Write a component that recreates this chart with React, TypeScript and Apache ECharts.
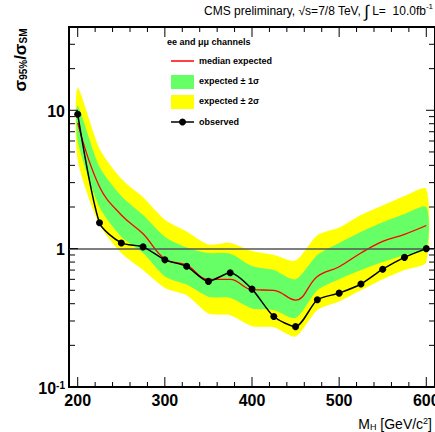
import React, { useEffect, useRef } from "react";
import * as echarts from "echarts";

const masses = [200, 225, 250, 275, 300, 325, 350, 375, 400, 425, 450, 475, 500, 525, 550, 575, 600];
const observed = [9.35, 1.54, 1.1, 1.03, 0.83, 0.745, 0.58, 0.67, 0.51, 0.323, 0.273, 0.427, 0.477, 0.555, 0.71, 0.865, 1.0];
const median = [8.1, 2.8, 1.75, 1.28, 0.84, 0.76, 0.6, 0.6, 0.505, 0.5, 0.425, 0.63, 0.74, 0.93, 1.13, 1.27, 1.47];
const plus2 = [14.5, 5.3, 3.2, 2.35, 1.62, 1.33, 1.07, 1.1, 0.96, 0.9, 0.82, 1.25, 1.42, 1.75, 2.05, 2.4, 2.7];
const plus1 = [10.8, 3.9, 2.4, 1.75, 1.22, 1.02, 0.93, 0.92, 0.75, 0.7, 0.6, 0.9, 1.1, 1.32, 1.55, 1.78, 2.0];
const minus1 = [6.0, 2.0, 1.22, 0.93, 0.63, 0.55, 0.45, 0.44, 0.37, 0.36, 0.315, 0.5, 0.6, 0.7, 0.8, 0.9, 1.0];
const minus2 = [4.4, 1.5, 0.93, 0.7, 0.52, 0.46, 0.34, 0.33, 0.275, 0.27, 0.232, 0.36, 0.415, 0.5, 0.6, 0.7, 0.8];

const xLabels = [200, 300, 400, 500, 600];
const xMinorTicks = [220, 240, 260, 280, 320, 340, 360, 380, 420, 440, 460, 480, 520, 540, 560, 580];
const yLabelValues = [0.1, 1, 10];
const yLabelTexts = ["{b|10}{s|-1}", "{b|1}", "{b|10}"];
const yMajorTicks = [1, 10];
const yMinorTicks = [0.2, 0.3, 0.4, 0.5, 0.6, 0.7, 0.8, 0.9, 2, 3, 4, 5, 6, 7, 8, 9, 20, 30, 40];

const X_MIN = 190;
const X_MAX = 610;
const Y_MIN = 0.1;
const Y_MAX = 40;

const FONT = "Liberation Sans, Arial, Helvetica, sans-serif";
const GREEN = "#66ff66";
const YELLOW = "#ffff00";

function band(upper: number[], lower: number[], color: string, z: number) {
  return {
    type: "custom",
    z,
    silent: true,
    clip: true,
    data: [[masses[0], upper[0]]],
    renderItem: (_params: any, api: any) => {
      const top = masses.map((m, i) => api.coord([m, upper[i]]));
      const bot = masses.map((m, i) => api.coord([m, lower[i]])).reverse();
      return {
        type: "polygon",
        shape: { points: top.concat(bot), smooth: 0.25 },
        style: { fill: color, stroke: null },
      };
    },
  };
}

export default function App() {
  const ref = useRef<HTMLDivElement>(null);
  useEffect(() => {
    if (!ref.current) return;
    const chart = echarts.init(ref.current, undefined, { renderer: "svg" });
    const option: any = {
      animation: false,
      backgroundColor: "#fff",
      grid: {
        left: 69,
        top: 27,
        width: 366,
        height: 360,
        show: true,
        borderColor: "#000",
        borderWidth: 2,
        backgroundColor: "transparent",
        containLabel: false,
        outerBoundsMode: "none",
      },
      xAxis: {
        type: "value",
        min: X_MIN,
        max: X_MAX,
        axisLine: { show: true, lineStyle: { color: "#000", width: 2 } },
        axisTick: { show: false },
        splitLine: { show: false },
        axisLabel: {
          customValues: xLabels,
          fontSize: 16,
          fontWeight: "bold",
          fontFamily: FONT,
          color: "#000",
          margin: 5,
        },
      },
      yAxis: {
        type: "log",
        logBase: 10,
        min: Y_MIN,
        max: Y_MAX,
        axisLine: { show: true, lineStyle: { color: "#000", width: 2 } },
        axisTick: { show: false },
        splitLine: { show: false },
        axisLabel: { show: false },
      },
      series: [
        band(plus2, minus2, YELLOW, 1),
        band(plus1, minus1, GREEN, 2),
        {
          type: "line",
          name: "median expected",
          z: 3,
          data: masses.map((m, i) => [m, median[i]]),
          smooth: 0.4,
          showSymbol: false,
          symbol: "none",
          lineStyle: { color: "#ff0000", width: 1.3 },
          markLine: {
            silent: true,
            symbol: "none",
            label: { show: false },
            lineStyle: { color: "#555", width: 1.6, type: "solid" },
            data: [{ yAxis: 1 }],
          },
        },
        {
          type: "line",
          name: "observed",
          z: 5,
          data: masses.map((m, i) => [m, observed[i]]),
          smooth: 0.25,
          symbol: "circle",
          symbolSize: 7,
          itemStyle: { color: "#000" },
          lineStyle: { color: "#000", width: 1.5 },
        },
        {
          type: "custom",
          z: 6,
          silent: true,
          clip: false,
          data: [[X_MIN, Y_MIN]],
          renderItem: (_params: any, api: any) => {
            const children: any[] = [];
            const ln = (a: number[], b: number[]) =>
              children.push({ type: "line", shape: { x1: a[0], y1: a[1], x2: b[0], y2: b[1] }, style: { stroke: "#000", lineWidth: 1 } });
            xLabels.forEach((m) => {
              const b = api.coord([m, Y_MIN]);
              const t = api.coord([m, Y_MAX]);
              ln(b, [b[0], b[1] - 10]);
              ln(t, [t[0], t[1] + 10]);
            });
            xMinorTicks.forEach((m) => {
              const b = api.coord([m, Y_MIN]);
              const t = api.coord([m, Y_MAX]);
              ln(b, [b[0], b[1] - 5]);
              ln(t, [t[0], t[1] + 5]);
            });
            yMajorTicks.forEach((v) => {
              const l = api.coord([X_MIN, v]);
              const r = api.coord([X_MAX, v]);
              ln(l, [l[0] + 9, l[1]]);
              ln(r, [r[0] - 9, r[1]]);
            });
            yMinorTicks.forEach((v) => {
              const l = api.coord([X_MIN, v]);
              const r = api.coord([X_MAX, v]);
              ln(l, [l[0] + 6, l[1]]);
              ln(r, [r[0] - 6, r[1]]);
            });
            yLabelValues.forEach((v, i) => {
              const l = api.coord([X_MIN, v]);
              children.push({
                type: "text",
                x: l[0] - 4,
                y: l[1] + 1,
                style: {
                  text: yLabelTexts[i],
                  align: "right",
                  verticalAlign: "middle",
                  rich: {
                    b: { fontSize: 16, fontWeight: "bold", fontFamily: FONT, fill: "#000" },
                    s: { fontSize: 10, fontWeight: "bold", fontFamily: FONT, fill: "#000", verticalAlign: "top", padding: [0, 0, 6, 0] },
                  },
                },
              });
            });
            return { type: "group", children };
          },
        },
      ],
      graphic: [
        {
          type: "text",
          x: 433,
          y: 11,
          style: {
            text: "{t|CMS preliminary, √s=7/8 TeV, }{i|∫}{t| L=  10.0fb}{p|-1}",
            align: "right",
            verticalAlign: "middle",
            rich: {
              t: { fontSize: 12, fontFamily: FONT, fill: "#000" },
              i: { fontSize: 17, fontFamily: FONT, fill: "#000" },
              p: { fontSize: 8, fontFamily: FONT, fill: "#000", verticalAlign: "top", padding: [0, 0, 5, 0] },
            },
          },
        },
        {
          type: "text",
          x: 432,
          y: 424,
          style: {
            text: "{n|M}{b|H}{n| [GeV/c}{p|2}{n|]}",
            align: "right",
            verticalAlign: "middle",
            rich: {
              n: { fontSize: 14, fontFamily: FONT, fill: "#000" },
              b: { fontSize: 9, fontFamily: FONT, fill: "#000", verticalAlign: "bottom", padding: [6, 0, 0, 0] },
              p: { fontSize: 9, fontFamily: FONT, fill: "#000", verticalAlign: "top", padding: [0, 0, 6, 0] },
            },
          },
        },
        {
          type: "text",
          x: 20,
          y: 60,
          rotation: Math.PI / 2,
          style: {
            text: "{s|σ}{b|95%}{s|/σ}{b|SM}",
            align: "center",
            verticalAlign: "middle",
            rich: {
              s: { fontSize: 17, fontWeight: "bold", fontFamily: FONT, fill: "#000" },
              b: { fontSize: 10, fontWeight: "bold", fontFamily: FONT, fill: "#000", verticalAlign: "bottom", padding: [7, 0, 0, 0] },
            },
          },
        },
        {
          type: "text",
          x: 167,
          y: 42,
          style: { text: "ee and μμ channels", fontSize: 9, fontWeight: "bold", fontFamily: FONT, fill: "#000", verticalAlign: "middle" },
        },
        { type: "line", shape: { x1: 171, y1: 61, x2: 194, y2: 61 }, style: { stroke: "#ff0000", lineWidth: 1.5 } },
        {
          type: "text",
          x: 199,
          y: 61,
          style: { text: "median expected", fontSize: 9, fontWeight: "bold", fontFamily: FONT, fill: "#000", verticalAlign: "middle" },
        },
        { type: "rect", shape: { x: 171, y: 75, width: 23, height: 14 }, style: { fill: GREEN } },
        {
          type: "text",
          x: 199,
          y: 81,
          style: { text: "expected ± 1σ", fontSize: 9, fontWeight: "bold", fontFamily: FONT, fill: "#000", verticalAlign: "middle" },
        },
        { type: "rect", shape: { x: 171, y: 95, width: 23, height: 14 }, style: { fill: YELLOW } },
        {
          type: "text",
          x: 199,
          y: 101,
          style: { text: "expected ± 2σ", fontSize: 9, fontWeight: "bold", fontFamily: FONT, fill: "#000", verticalAlign: "middle" },
        },
        { type: "line", shape: { x1: 171, y1: 122, x2: 194, y2: 122 }, style: { stroke: "#000", lineWidth: 1.5 } },
        { type: "circle", shape: { cx: 182.5, cy: 122, r: 3.5 }, style: { fill: "#000" } },
        {
          type: "text",
          x: 199,
          y: 122,
          style: { text: "observed", fontSize: 9, fontWeight: "bold", fontFamily: FONT, fill: "#000", verticalAlign: "middle" },
        },
      ],
    };
    chart.setOption(option);
    return () => chart.dispose();
  }, []);
  return <div ref={ref} style={{ position: "fixed", left: 0, top: 0, width: 435, height: 432 }} />;
}
